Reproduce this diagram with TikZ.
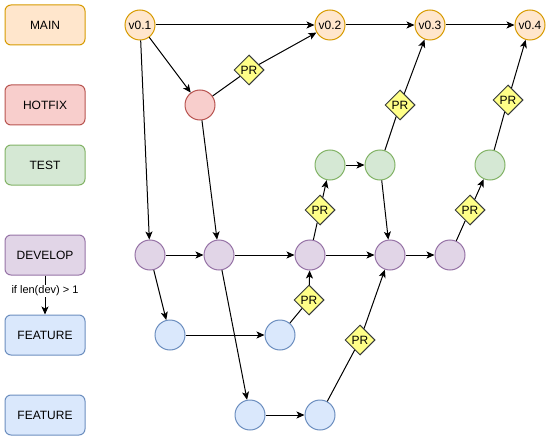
\documentclass[tikz,border=0pt]{standalone}
\usepackage{fontspec}
\setmainfont{Liberation Sans}
\usetikzlibrary{shapes.geometric}
\usetikzlibrary{arrows.meta}
\definecolor{mainFill}{HTML}{FFE6CC}\definecolor{mainLine}{HTML}{D79B00}
\definecolor{hotFill}{HTML}{F8CECC}\definecolor{hotLine}{HTML}{B85450}
\definecolor{testFill}{HTML}{D5E8D4}\definecolor{testLine}{HTML}{82B366}
\definecolor{devFill}{HTML}{E1D5E7}\definecolor{devLine}{HTML}{9673A6}
\definecolor{featFill}{HTML}{DAE8FC}\definecolor{featLine}{HTML}{6C8EBF}
\definecolor{prFill}{HTML}{FFFF88}\definecolor{prLine}{HTML}{36393D}
\newcommand{\prLink}[3]{%%
  %% Plain line into the pull request, arrow out of it.
  \draw[lineStyle] (#1) -- (#2);
  \draw[arrowStyle] (#2) -- (#3);
}

\begin{document}
\begin{tikzpicture}[%%
  x=1pt,y=-1pt,%%
  font=\fontsize{12}{14}\selectfont,%%
  boxStyle/.style={draw,line width=1pt,rounded corners=6pt,minimum width=80pt,minimum height=40pt},%%
  commitStyle/.style={circle,draw,line width=1pt,minimum size=30pt,inner sep=1pt},%%
  prStyle/.style={diamond,draw=prLine,fill=prFill,line width=1pt,minimum width=30pt,minimum height=30pt,aspect=1,inner sep=0pt},%%
  lineStyle/.style={-,line width=1pt},%%
  arrowStyle/.style={-{Stealth[length=8pt,width=7pt,inset=2pt]},line width=1pt},%%
  condStyle/.style={fill=white,inner sep=1pt,font=\fontsize{11}{13}\selectfont}%%
]
\useasboundingbox (0,0) rectangle (551,441);
%%
%%
%% The branch names on the left.
\node[boxStyle,draw=mainLine,fill=mainFill] (main) at (45,25) {MAIN};
\node[boxStyle,draw=hotLine,fill=hotFill] (hotfix) at (45,105) {HOTFIX};
\node[boxStyle,draw=testLine,fill=testFill] (test) at (45,165) {TEST};
\node[boxStyle,draw=devLine,fill=devFill] (develop) at (45,255) {DEVELOP};
\node[boxStyle,draw=featLine,fill=featFill] (featureA) at (45,335) {FEATURE};
\node[boxStyle,draw=featLine,fill=featFill] (featureB) at (45,415) {FEATURE};
\draw[arrowStyle] (develop) -- node[condStyle,pos=0.4] (cond) {if len(dev) > 1} (featureA);
%%
%%
%% The commits.
\node[commitStyle,draw=mainLine,fill=mainFill] (vOne) at (140,25) {v0.1};
\node[commitStyle,draw=mainLine,fill=mainFill] (vTwo) at (330,25) {v0.2};
\node[commitStyle,draw=mainLine,fill=mainFill] (vThree) at (430,25) {v0.3};
\node[commitStyle,draw=mainLine,fill=mainFill] (vFour) at (530,25) {v0.4};
\node[commitStyle,draw=hotLine,fill=hotFill] (hotA) at (200,105) {};
\node[commitStyle,draw=testLine,fill=testFill] (testA) at (330,165) {};
\node[commitStyle,draw=testLine,fill=testFill] (testB) at (380,165) {};
\node[commitStyle,draw=testLine,fill=testFill] (testC) at (490,165) {};
\node[commitStyle,draw=devLine,fill=devFill] (devA) at (150,255) {};
\node[commitStyle,draw=devLine,fill=devFill] (devB) at (219,255) {};
\node[commitStyle,draw=devLine,fill=devFill] (devC) at (310,255) {};
\node[commitStyle,draw=devLine,fill=devFill] (devD) at (390,255) {};
\node[commitStyle,draw=devLine,fill=devFill] (devE) at (450,255) {};
\node[commitStyle,draw=featLine,fill=featFill] (featA) at (170,335) {};
\node[commitStyle,draw=featLine,fill=featFill] (featB) at (280,335) {};
\node[commitStyle,draw=featLine,fill=featFill] (featC) at (250,415) {};
\node[commitStyle,draw=featLine,fill=featFill] (featD) at (320,415) {};
%%
%%
%% The pull requests.
\node[prStyle] (prHot) at (249,70) {PR};
\node[prStyle] (prMainA) at (400,105) {PR};
\node[prStyle] (prMainB) at (508,100) {PR};
\node[prStyle] (prTestA) at (320,210) {PR};
\node[prStyle] (prTestB) at (470,210) {PR};
\node[prStyle] (prDevA) at (309,300) {PR};
\node[prStyle] (prDevB) at (360,340) {PR};
%%
%%
%% Straight merges and branch offs.
\draw[arrowStyle] (vOne) -- (vTwo);
\draw[arrowStyle] (vTwo) -- (vThree);
\draw[arrowStyle] (vThree) -- (vFour);
\draw[arrowStyle] (vOne) -- (hotA);
\draw[arrowStyle] (vOne) -- (devA);
\draw[arrowStyle] (hotA) -- (devB);
\draw[arrowStyle] (devA) -- (devB);
\draw[arrowStyle] (devB) -- (devC);
\draw[arrowStyle] (devC) -- (devD);
\draw[arrowStyle] (devD) -- (devE);
\draw[arrowStyle] (devA) -- (featA);
\draw[arrowStyle] (devB) -- (featC);
\draw[arrowStyle] (featA) -- (featB);
\draw[arrowStyle] (featC) -- (featD);
\draw[arrowStyle] (testA) -- (testB);
\draw[arrowStyle] (testB) -- (devD);
%%
%%
%% Merges through a pull request.
\prLink{hotA}{prHot}{vTwo}
\prLink{featB}{prDevA}{devC}
\prLink{featD}{prDevB}{devD}
\prLink{devC}{prTestA}{testA}
\prLink{devE}{prTestB}{testC}
\prLink{testB}{prMainA}{vThree}
\prLink{testC}{prMainB}{vFour}
\end{tikzpicture}
\end{document}
